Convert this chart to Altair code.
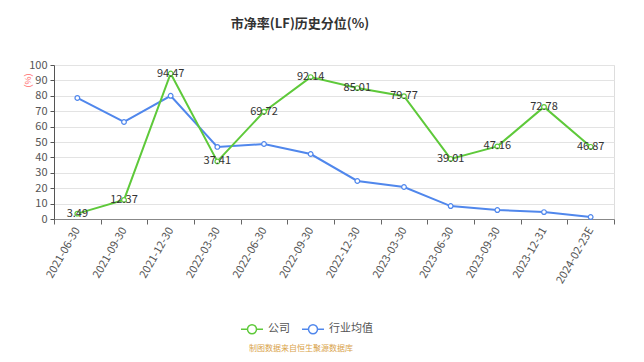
import altair as alt
import pandas as pd

dates = ["2021-06-30", "2021-09-30", "2021-12-30", "2022-03-30", "2022-06-30", "2022-09-30",
         "2022-12-30", "2023-03-30", "2023-06-30", "2023-09-30", "2023-12-31", "2024-02-23E"]
company = [3.49, 12.37, 94.47, 37.41, 69.72, 92.14, 85.01, 79.77, 39.01, 47.16, 72.78, 46.87]
industry = [78.6, 63.0, 80.0, 46.8, 48.7, 42.2, 24.7, 20.8, 8.4, 5.8, 4.5, 1.3]
series_names = ["公司", "行业均值"]
colors = ["#5ec93a", "#5087ec"]

rows = []
for d, v in zip(dates, company):
    rows.append({"date": d, "value": v, "series": series_names[0], "label": f"{v:.2f}"})
for d, v in zip(dates, industry):
    rows.append({"date": d, "value": v, "series": series_names[1], "label": ""})
df = pd.DataFrame(rows)

font = "Noto Sans CJK SC"

color_scale = alt.Scale(domain=series_names, range=colors)
x_enc = alt.X("date:N", sort=dates,
              scale=alt.Scale(type="band", paddingInner=0, paddingOuter=0),
              axis=alt.Axis(title=None, labelAngle=-60, labelAlign="right", labelBaseline="middle",
                            labelFontSize=11, labelColor="#555", labelFont=font, labelPadding=4,
                            tickBand="extent", tickSize=5, tickColor="#666", domainColor="#888",
                            grid=False, labelOverlap=False))
y_enc = alt.Y("value:Q", scale=alt.Scale(domain=[0, 100], nice=False),
              axis=alt.Axis(values=list(range(0, 101, 10)), title="(%)", titleColor="#ff6b6b",
                            titleFontSize=9, titleFontWeight="normal", titleAngle=270,
                            titleX=-27, titleY=15, titleAlign="center", titleBaseline="middle",
                            labelFontSize=11, labelColor="#555", labelFont=font, labelPadding=3,
                            tickSize=4, tickColor="#555", domainColor="#555",
                            gridColor="#e3e3e3", gridWidth=1))

sym_path = ("M-1,0L-0.41,0M0.41,0L1,0M0.41,0A0.41,0.41,0,1,1,-0.41,0"
            "A0.41,0.41,0,1,1,0.41,0")

base = alt.Chart(df)

line_ind = base.transform_filter(alt.datum.series == series_names[1]).mark_line(strokeWidth=2).encode(
    x=x_enc, y=y_enc,
    color=alt.Color("series:N", scale=color_scale,
                    legend=alt.Legend(title=None, orient="none", direction="horizontal",
                                      legendX=186, legendY=252, symbolType=sym_path,
                                      symbolSize=484, symbolStrokeWidth=1.5,
                                      symbolFillColor="white", labelFontSize=11,
                                      labelColor="#555", labelFont=font, columnPadding=9,
                                      labelOffset=4)))
line_com = base.transform_filter(alt.datum.series == series_names[0]).mark_line(strokeWidth=2).encode(
    x=x_enc, y=y_enc, color=alt.Color("series:N", scale=color_scale, legend=None))
pts_ind = base.transform_filter(alt.datum.series == series_names[1]).mark_point(
    filled=True, fill="white", size=22, strokeWidth=1.2, opacity=1).encode(
    x=x_enc, y=y_enc, stroke=alt.Stroke("series:N", scale=color_scale, legend=None))
pts_com = base.transform_filter(alt.datum.series == series_names[0]).mark_point(
    filled=True, fill="white", size=22, strokeWidth=1.2, opacity=1).encode(
    x=x_enc, y=y_enc, stroke=alt.Stroke("series:N", scale=color_scale, legend=None))
labels = base.transform_filter(alt.datum.series == series_names[0]).mark_text(
    fontSize=11, color="#333", font=font, baseline="middle", align="center").encode(
    x=x_enc, y=y_enc, text="label:N")

meta = pd.DataFrame({"t": ["x"]})
title = alt.Chart(meta).mark_text(text="市净率(LF)历史分位(%)", fontSize=13, fontWeight="bold",
                                  color="#333", font=font, align="center", baseline="middle").encode(
    x=alt.value(246), y=alt.value(-41))
source = alt.Chart(meta).mark_text(text="制图数据来自恒生聚源数据库", fontSize=8, color="#d9a34a",
                                   font=font, align="center", baseline="middle").encode(
    x=alt.value(247), y=alt.value(284))

chart = alt.layer(line_ind, line_com, pts_ind, pts_com, labels, title, source).resolve_scale(
    color="shared", stroke="shared").properties(
    width=560, height=154,
    autosize=alt.AutoSizeParams(type="none"),
    padding={"left": 46, "top": 57, "right": 22, "bottom": 135},
).configure_view(stroke=None).configure(background="white")

chart.save("out.html", embed_options={"renderer": "svg", "actions": False})
